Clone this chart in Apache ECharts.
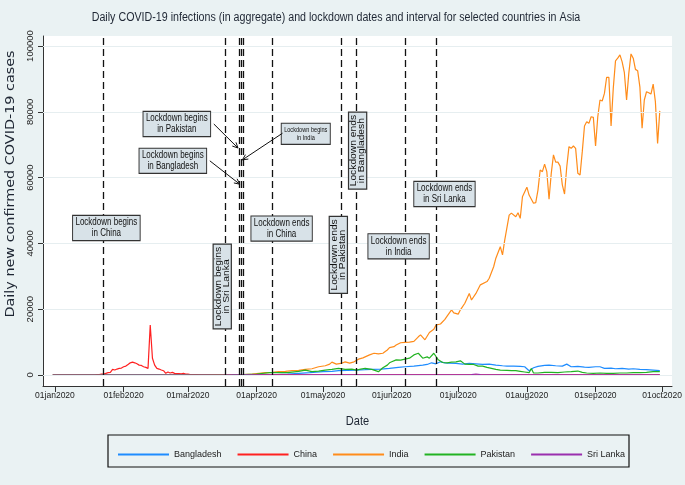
<!DOCTYPE html>
<html><head><meta charset="utf-8">
<script src="https://cdn.jsdelivr.net/npm/echarts@6/dist/echarts.min.js"></script>
<style>html,body{margin:0;padding:0;background:#eaf2f3}#c{width:685px;height:485px}</style>
</head><body><div id="c"></div>
<script>
// x values are day offsets: day 0 = 01jan2020
const monthDays = [0, 31, 60, 91, 121, 152, 182, 213, 244, 274];
const monthLabels = ['01jan2020','01feb2020','01mar2020','01apr2020','01may2020','01jun2020','01jul2020','01aug2020','01sep2020','01oct2020'];
const yTicks = [0, 20000, 40000, 60000, 80000, 100000];
const countries = ['Bangladesh', 'China', 'India', 'Pakistan', 'Sri Lanka'];

const bangladesh = [[-1,0],[66,0],[80,10],[90,40],[100,150],[105,300],[110,500],[115,700],[121,1000],[125,1100],[128,1300],[132,1400],[136,1500],[140,1600],[143,1700],[147,1800],[151,2000],[155,2300],[158,2500],[162,2700],[166,3000],[168,3200],[170,3700],[172,3400],[174,4000],[176,3700],[178,3600],[181,3500],[184,3300],[187,3500],[190,3400],[193,3200],[196,3300],[199,3000],[202,2800],[204,2700],[207,2700],[210,2600],[212,2500],[214,1300],[216,2200],[218,2600],[221,2900],[223,3000],[226,2800],[229,2700],[231,3300],[233,2500],[236,2600],[239,2400],[241,2300],[244,2500],[246,2500],[248,2000],[251,2100],[253,1900],[256,2000],[259,1800],[261,1900],[264,1700],[267,1600],[270,1500],[273,1300]];

const china = [[-1,0],[18,0],[19,80],[20,150],[21,250],[22,300],[23,500],[24,700],[25,800],[26,1700],[27,1500],[28,1800],[29,2000],[30,2100],[31,2500],[32,2700],[33,3200],[34,3700],[35,3900],[36,3700],[37,3400],[38,3000],[39,2900],[40,2500],[41,2300],[42,2000],[43,15200],[44,5100],[45,3000],[46,2000],[47,1800],[48,1500],[49,1300],[50,500],[51,900],[52,600],[53,800],[54,500],[55,400],[56,450],[57,350],[58,500],[59,300],[60,300],[61,150],[62,120],[64,100],[66,50],[70,30],[75,40],[80,60],[85,80],[90,60],[95,50],[100,80],[104,100],[108,50],[115,30],[120,10],[130,10],[150,10],[170,20],[180,15],[200,30],[210,50],[220,20],[240,20],[273,15]];

const india = [[-1,0],[60,0],[70,20],[80,80],[85,100],[89,300],[92,500],[95,700],[98,800],[101,1000],[104,1100],[107,1300],[110,1400],[113,1700],[116,1900],[119,2500],[122,2800],[124,3300],[125,3900],[127,3300],[129,3500],[131,4000],[133,3600],[135,4000],[137,4800],[139,5200],[142,6100],[144,6600],[146,6400],[148,6600],[150,7600],[151,8300],[153,8600],[154,9100],[156,9800],[158,9900],[160,10000],[162,10200],[164,11600],[165,12200],[167,10700],[169,12900],[171,13900],[172,15200],[174,15500],[176,16900],[177,17900],[179,19800],[180,18900],[182,18500],[183,19800],[185,21800],[187,24800],[188,22800],[190,24800],[192,27400],[195,28400],[196,29400],[198,32900],[199,35500],[201,39000],[202,36500],[203,41000],[205,48600],[206,49200],[208,48100],[209,49300],[210,47600],[211,54200],[213,57100],[214,54700],[216,52200],[217,52400],[218,56200],[219,62300],[220,61800],[221,64100],[222,61800],[223,53400],[224,61300],[225,66900],[226,64700],[227,64700],[228,63500],[229,57800],[230,55000],[231,63300],[232,69400],[233,68900],[234,69600],[235,68900],[236,61300],[237,60800],[238,67900],[239,75700],[240,77000],[241,76500],[242,78500],[243,78300],[244,69600],[245,78500],[246,83600],[247,83300],[248,85600],[249,90500],[250,90500],[251,75700],[252,87200],[253,95500],[254,96300],[255,97300],[256,95200],[257,91900],[258,83600],[259,91700],[260,97600],[261,96300],[262,92900],[263,92500],[264,87600],[265,75000],[266,83600],[267,86100],[268,85800],[269,85400],[270,88400],[271,83100],[272,70400],[273,80300]];

const pakistan = [[-1,0],[60,0],[80,50],[85,150],[91,300],[97,700],[105,700],[110,1100],[113,1500],[116,1000],[119,1200],[122,1500],[125,1700],[128,2000],[131,1700],[134,1800],[136,1500],[138,1800],[140,2000],[143,1700],[146,1000],[148,2200],[150,3000],[151,3700],[152,4000],[154,4600],[156,4500],[158,4800],[160,5100],[162,6100],[164,6600],[166,5100],[168,5500],[169,5100],[171,6600],[173,4600],[175,3800],[177,3700],[179,3900],[181,4000],[183,4300],[185,3300],[187,3200],[189,3200],[191,2700],[193,2700],[195,2300],[197,2000],[199,1700],[201,1500],[204,1400],[206,1300],[208,1300],[210,1100],[212,900],[214,700],[215,2000],[216,600],[218,600],[221,800],[224,800],[227,700],[230,900],[233,1000],[236,1200],[238,800],[240,600],[243,500],[246,600],[249,500],[252,500],[255,600],[258,600],[261,700],[264,700],[267,800],[270,1000],[273,1000]];

const sriLanka = [[-1,0],[75,0],[80,10],[90,15],[100,10],[110,30],[120,20],[130,30],[140,50],[150,20],[160,10],[170,10],[180,10],[185,30],[188,100],[190,300],[192,100],[195,30],[200,20],[210,10],[220,10],[230,10],[240,10],[250,10],[260,10],[273,10]];

// lockdown begin/end dates (day offsets)
const lockdownDays = [22, 77, 83, 84, 85, 98, 129, 136, 158, 172];

const REG = "'Liberation Sans',Arial,sans-serif";
const colors = ['#1e8cff', '#ff2020', '#ff8c1a', '#22b322', '#9a2fae'];
const seriesData = [bangladesh, china, india, pakistan, sriLanka];

// annotation boxes, anchored in data coordinates
const notes = [
  {text:'Lockdown begins\nin China', at:[23.2, 44700], fs:10, lh:11, pad:[1,3], sx:0.8},
  {text:'Lockdown begins\nin Pakistan', at:[55, 76300], fs:10, lh:11, pad:[1,3], sx:0.8},
  {text:'Lockdown begins\nin Bangladesh', at:[53.2, 65100], fs:10, lh:11, pad:[1,3], sx:0.8},
  {text:'Lockdown begins\nin India', at:[113.2, 73300], fs:7, lh:8, pad:[2,3], sx:0.8},
  {text:'Lockdown begins\nin Sri Lanka', at:[75.5, 26900], fs:9.5, lh:7.5, pad:[1,2], sx:1.08, rot:90},
  {text:'Lockdown ends\nin China', at:[102.3, 44500], fs:10, lh:11, pad:[1,3], sx:0.8},
  {text:'Lockdown ends\nin Pakistan', at:[127.9, 36500], fs:9.5, lh:7.5, pad:[1,2], sx:1.08, rot:90},
  {text:'Lockdown ends\nin Bangladesh', at:[136.6, 68200], fs:9.5, lh:7.5, pad:[1,2], sx:1.08, rot:90},
  {text:'Lockdown ends\nin India', at:[155.1, 39100], fs:10, lh:11, pad:[1,3], sx:0.8},
  {text:'Lockdown ends\nin Sri Lanka', at:[175.8, 55000], fs:10, lh:11, pad:[1,3], sx:0.8}
];
const arrows = [
  [71.7, 76300, 82.6, 69000],
  [102.7, 73500, 84.6, 65400],
  [69.9, 65100, 83.4, 58000]
];

const chart = echarts.init(document.getElementById('c'), null, {renderer:'canvas'});

const series = countries.map((name, i) => ({
  name, type:'line', data: seriesData[i], showSymbol:false, symbol:'none',
  lineStyle:{color:colors[i], width:1.2}, itemStyle:{color:colors[i]}, z:3, silent:true
}));

series.unshift({
  name:'_grid', type:'line', data:[[0,0]], showSymbol:false, symbol:'none',
  lineStyle:{opacity:0}, z:1, silent:true,
  markLine:{silent:true, symbol:['none','none'], label:{show:false}, animation:false,
    lineStyle:{color:'#e6eef0', width:1.2, type:'solid'},
    data: yTicks.map(v => ({yAxis:v}))}
});
series.push({
  name:'_lock', type:'line', data:[[0,0]], showSymbol:false, symbol:'none',
  lineStyle:{opacity:0}, z:4, silent:true,
  markLine:{silent:true, symbol:['none','none'], label:{show:false}, animation:false,
    lineStyle:{color:'#111', width:1.3, type:[7,4]},
    data: lockdownDays.map(d => ({xAxis:d}))}
});
series.push({
  name:'_notes', type:'custom', z:6, silent:true,
  data: notes.map((n, i) => [n.at[0], n.at[1], i]),
  encode:{x:0, y:1},
  renderItem(params, api){
    const n = notes[api.value(2)];
    const p = api.coord([api.value(0), api.value(1)]);
    return {type:'text', x:p[0], y:p[1], scaleX:n.sx, rotation: n.rot ? Math.PI/2 : 0,
      style:{text:n.text, font: n.fs+'px '+REG, lineHeight:n.lh, fill:'#111',
        align:'center', verticalAlign:'middle',
        backgroundColor:'#d8e2e8', borderColor:'#333', borderWidth:1.2, padding:n.pad}};
  }
});
series.push({
  name:'_arrows', type:'custom', z:7, silent:true, data: arrows,
  encode:{x:[0,2], y:[1,3]},
  renderItem(params, api){
    const p1 = api.coord([api.value(0), api.value(1)]);
    const p2 = api.coord([api.value(2), api.value(3)]);
    const ang = Math.atan2(p2[1]-p1[1], p2[0]-p1[0]);
    const L = 6, A = 0.45;
    const a = [p2[0]-L*Math.cos(ang-A), p2[1]-L*Math.sin(ang-A)];
    const b = [p2[0]-L*Math.cos(ang+A), p2[1]-L*Math.sin(ang+A)];
    return {type:'group', children:[
      {type:'line', shape:{x1:p1[0], y1:p1[1], x2:p2[0], y2:p2[1]}, style:{stroke:'#111', lineWidth:1}},
      {type:'polyline', shape:{points:[a, p2, b]}, style:{stroke:'#111', lineWidth:1, fill:null}}
    ]};
  }
});

chart.setOption({
  animation:false,
  backgroundColor:'#eaf2f3',
  grid:{left:43, top:36, right:13, bottom:99, show:true, backgroundColor:'#ffffff', borderWidth:0, containLabel:false},
  xAxis:{type:'value', min:-5.4, max:278.5,
    axisLine:{show:true, onZero:false, lineStyle:{color:'#333', width:1}},
    axisTick:{show:true, customValues:monthDays, length:6, lineStyle:{color:'#333'}},
    axisLabel:{customValues:monthDays, margin:5, fontSize:8.5, fontFamily:REG, color:'#222',
      formatter: v => monthLabels[monthDays.indexOf(Math.round(v))] || ''},
    splitLine:{show:false}},
  yAxis:{type:'value', min:-3350, max:103050,
    axisLine:{show:true, onZero:false, lineStyle:{color:'#333', width:1}},
    axisTick:{show:true, customValues:yTicks, length:5, lineStyle:{color:'#333'}},
    axisLabel:{customValues:yTicks, rotate:90, margin:8, fontSize:9.5, fontFamily:REG, color:'#222',
      formatter: v => String(v)},
    splitLine:{show:false}},
  legend:{data:countries, left:113, top:445, itemWidth:51, itemHeight:2, itemGap:16, icon:'rect',
    textStyle:{fontSize:9, fontFamily:REG, color:'#222'}, selectedMode:false},
  graphic:[
    {type:'text', x:336, y:18, scaleX:0.89, style:{text:'Daily COVID-19 infections (in aggregate) and lockdown dates and interval for selected countries in Asia',
      font:"12px "+REG, fill:'#1e2633', align:'center', verticalAlign:'middle'}},
    {type:'text', x:357.5, y:421, scaleX:0.85, style:{text:'Date', font:"13px "+REG, fill:'#1e2633', align:'center', verticalAlign:'middle'}},
    {type:'text', x:11, y:184, rotation:Math.PI/2, scaleX:1.15, style:{text:'Daily new confirmed COVID-19 cases', font:"12.5px 'DejaVu Sans',sans-serif", fill:'#1e2633', align:'center', verticalAlign:'middle'}},
    {type:'rect', shape:{x:108, y:435, width:521, height:32}, style:{stroke:'#111', lineWidth:1.2, fill:null}}
  ],
  series
});
</script></body></html>
